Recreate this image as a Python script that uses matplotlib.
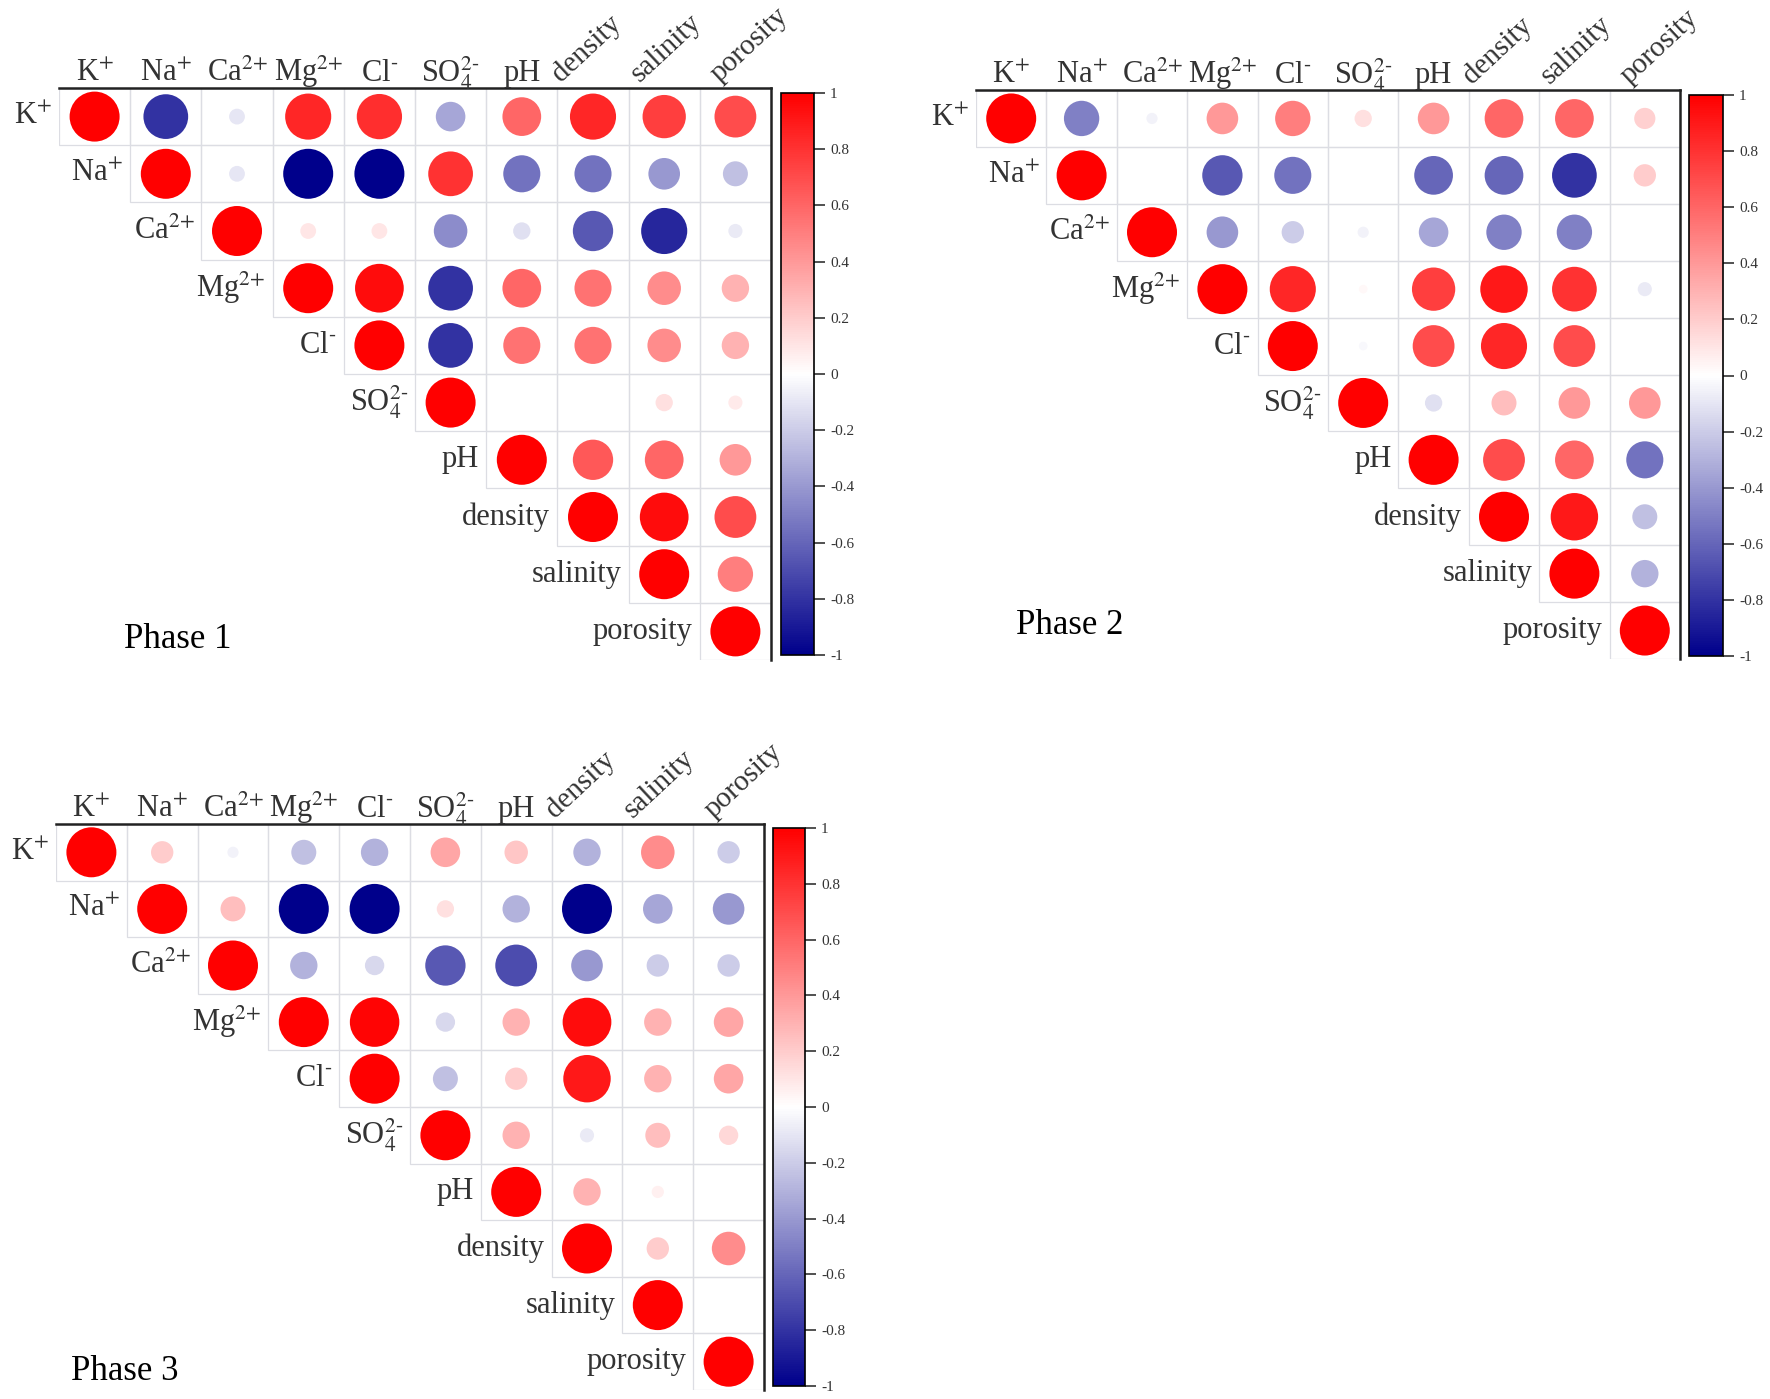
import numpy as np
import matplotlib.pyplot as plt
from matplotlib.colors import LinearSegmentedColormap
from matplotlib.patches import Rectangle

plt.rcParams['font.family'] = ['Liberation Serif', 'DejaVu Serif']
plt.rcParams['mathtext.fontset'] = 'stix'

# variable names (rows = columns)
names = [r'K$^{\text{+}}$', r'Na$^{\text{+}}$', r'Ca$^{\text{2+}}$', r'Mg$^{\text{2+}}$',
         r'Cl$^{\text{-}}$', r'SO$_{\text{4}}^{\text{2-}}$', 'pH', 'density', 'salinity', 'porosity']

# upper triangle of each correlation matrix, row by row (diagonal first)
phase1 = [
    [1, -0.8, -0.1, 0.85, 0.82, -0.35, 0.6, 0.85, 0.75, 0.7],
    [1, -0.1, -1.0, -1.0, 0.8, -0.55, -0.55, -0.4, -0.25],
    [1, 0.1, 0.1, -0.45, -0.12, -0.65, -0.85, -0.08],
    [1, 0.95, -0.8, 0.6, 0.55, 0.45, 0.3],
    [1, -0.8, 0.55, 0.55, 0.45, 0.3],
    [1, 0.0, 0.0, 0.12, 0.08],
    [1, 0.65, 0.6, 0.4],
    [1, 0.95, 0.7],
    [1, 0.5],
    [1],
]
phase2 = [
    [1, -0.5, -0.05, 0.4, 0.5, 0.12, 0.4, 0.6, 0.6, 0.18],
    [1, 0.0, -0.65, -0.55, 0.0, -0.6, -0.6, -0.8, 0.2],
    [1, -0.4, -0.2, -0.05, -0.35, -0.5, -0.5, 0.0],
    [1, 0.85, 0.03, 0.75, 0.9, 0.8, -0.08],
    [1, -0.03, 0.7, 0.85, 0.7, 0.0],
    [1, -0.12, 0.25, 0.4, 0.4],
    [1, 0.7, 0.6, -0.55],
    [1, 0.9, -0.25],
    [1, -0.3],
    [1],
]
phase3 = [
    [1, 0.2, -0.05, -0.25, -0.3, 0.35, 0.22, -0.3, 0.45, -0.2],
    [1, 0.25, -1.0, -1.0, 0.12, -0.3, -1.0, -0.35, -0.4],
    [1, -0.3, -0.15, -0.65, -0.7, -0.4, -0.2, -0.2],
    [1, 0.98, -0.15, 0.3, 0.95, 0.3, 0.35],
    [1, -0.25, 0.2, 0.9, 0.3, 0.35],
    [1, 0.3, -0.08, 0.25, 0.15],
    [1, 0.3, 0.06, 0.0],
    [1, 0.2, 0.45],
    [1, 0.0],
    [1],
]
cbar_ticks = [-1, -0.8, -0.6, -0.4, -0.2, 0, 0.2, 0.4, 0.6, 0.8, 1]
cbar_labels = ['-1', '-0.8', '-0.6', '-0.4', '-0.2', '0', '0.2', '0.4', '0.6', '0.8', '1']

cmap = LinearSegmentedColormap.from_list('bwr2', ['#00008B', '#FFFFFF', '#FF0000'])

W, H = 1770, 1399
fig = plt.figure(figsize=(W / 100, H / 100), dpi=100)


def px_axes(x0, y0, x1, y1):
    return fig.add_axes([x0 / W, 1 - y1 / H, (x1 - x0) / W, (y1 - y0) / H])


def draw_panel(box, cbox, rows, title, txy):
    ax = px_axes(*box)
    cax = px_axes(*cbox)
    xs, ys, vs = [], [], []
    for i, row in enumerate(rows):
        for k, v in enumerate(row):
            j = i + k
            xs.append(j)
            ys.append(i)
            vs.append(v)
            ax.add_patch(Rectangle((j - 0.5, i - 0.5), 1, 1, fill=False,
                                   ec='#dcdde3', lw=0.9, zorder=1))
    vs = np.array(vs)
    sc = ax.scatter(xs, ys, s=1296 * np.abs(vs), c=vs, cmap=cmap,
                    vmin=-1, vmax=1, linewidths=0, zorder=3)
    ax.set_xlim(-0.5, 9.5)
    ax.set_ylim(9.5, -0.5)
    ax.set_xticks([])
    ax.set_yticks([])
    for s in ['left', 'bottom']:
        ax.spines[s].set_visible(False)
    for s in ['top', 'right']:
        ax.spines[s].set_linewidth(1.8)
        ax.spines[s].set_color('#222222')

    # row labels, left of the diagonal
    for i, nm in enumerate(names):
        ax.text(i - 0.6, i, nm, ha='right', va='center', fontsize=22,
                color='#333333')
    # column labels above the top line
    rot_off = {7: 0.45, 8: 0.35, 9: 0.22}
    for j, nm in enumerate(names):
        if j < 7:
            ax.text(j, -0.62, nm, ha='center', va='baseline', fontsize=22,
                    color='#333333')
        else:
            ax.text(j - rot_off[j], -0.6, nm, ha='left', va='baseline', fontsize=21,
                    rotation=43, rotation_mode='anchor', color='#333333')

    fig.text(txy[0] / W, 1 - txy[1] / H, title, ha='center', va='center',
             fontsize=25, color='black')

    cb = fig.colorbar(sc, cax=cax, ticks=cbar_ticks)
    cb.ax.set_yticklabels(cbar_labels)
    cb.ax.tick_params(labelsize=11, length=8, width=1.2, colors='#333333')
    cb.outline.set_linewidth(1.2)
    return ax


draw_panel((59, 88, 771, 660), (781, 93, 814, 655), phase1, 'Phase 1', (178, 639))
draw_panel((976, 90, 1680, 659), (1689, 95, 1723, 656), phase2, 'Phase 2', (1070, 626))
draw_panel((56, 824, 764, 1390), (773, 828, 805, 1386), phase3, 'Phase 3', (125, 1371))

fig.savefig('out.png', dpi=100)
